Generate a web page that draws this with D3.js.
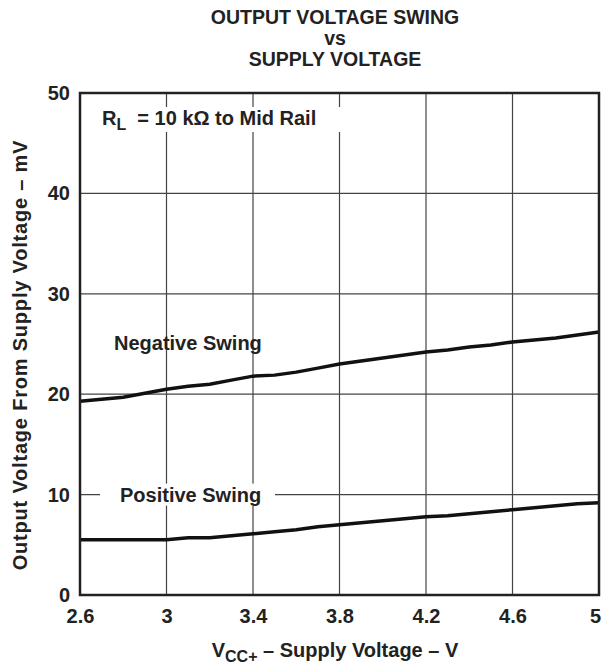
<!DOCTYPE html>
<html>
<head>
<meta charset="utf-8">
<script src="https://cdn.jsdelivr.net/npm/d3@7"></script>
<style>
  body { margin: 0; background: #fff; }
  text { font-family: "Liberation Sans", Arial, sans-serif; font-weight: bold; fill: #222; }
</style>
</head>
<body>
<div id="chart"></div>
<script>
// supply voltage (V)
var vcc = [2.6, 2.7, 2.8, 2.9, 3.0, 3.1, 3.2, 3.3, 3.4, 3.5, 3.6, 3.7, 3.8,
           3.9, 4.0, 4.1, 4.2, 4.3, 4.4, 4.5, 4.6, 4.7, 4.8, 4.9, 5.0];
// output swing from rail (mV)
var negSwing = [19.3, 19.5, 19.7, 20.1, 20.5, 20.8, 21.0, 21.4, 21.8, 21.9, 22.2, 22.6, 23.0,
                23.3, 23.6, 23.9, 24.2, 24.4, 24.7, 24.9, 25.2, 25.4, 25.6, 25.9, 26.2];
var posSwing = [5.5, 5.5, 5.5, 5.5, 5.5, 5.7, 5.7, 5.9, 6.1, 6.3, 6.5, 6.8, 7.0,
                7.2, 7.4, 7.6, 7.8, 7.9, 8.1, 8.3, 8.5, 8.7, 8.9, 9.1, 9.2];
var xTicks = [2.6, 3.0, 3.4, 3.8, 4.2, 4.6, 5.0];
var yTicks = [0, 10, 20, 30, 40, 50];

var margin = {top: 93, right: 4, bottom: 69, left: 80},
    width = 603 - margin.left - margin.right,
    height = 664 - margin.top - margin.bottom;

var svg = d3.select("#chart")
  .append("svg")
    .attr("width", 603)
    .attr("height", 664);

var g = svg.append("g")
    .attr("transform", "translate(" + margin.left + "," + margin.top + ")");

var x = d3.scaleLinear().domain([2.6, 5]).range([0, width]);
var y = d3.scaleLinear().domain([0, 50]).range([height, 0]);

// grid
g.selectAll(".vgrid").data(xTicks).enter().append("line")
  .attr("x1", function(d) { return x(d); }).attr("x2", function(d) { return x(d); })
  .attr("y1", 0).attr("y2", height)
  .attr("stroke", "#444").attr("stroke-width", 1.2);
g.selectAll(".hgrid").data(yTicks).enter().append("line")
  .attr("x1", 0).attr("x2", width)
  .attr("y1", function(d) { return y(d); }).attr("y2", function(d) { return y(d); })
  .attr("stroke", "#444").attr("stroke-width", 1.2);

// tick labels
var xAxis = g.append("g")
  .attr("transform", "translate(0," + height + ")")
  .call(d3.axisBottom(x).tickValues(xTicks).tickSize(0).tickPadding(14)
    .tickFormat(function(d) { return d3.format("")(+d.toFixed(1)); }));
xAxis.select(".domain").remove();
xAxis.selectAll("text").attr("font-size", "20px").attr("fill", "#222").style("font-family", null)
  .attr("dx", function(d) { return d === 5 ? -4 : 0; });

var yAxis = g.append("g")
  .call(d3.axisLeft(y).tickValues(yTicks).tickSize(0).tickPadding(10));
yAxis.select(".domain").remove();
yAxis.selectAll("text").attr("font-size", "20px").attr("fill", "#222").style("font-family", null);

// label boxes
g.append("rect").attr("x", 15).attr("y", 14).attr("width", 250).attr("height", 25).attr("fill", "#fff");
g.append("rect").attr("x", 20).attr("y", y(10) - 11).attr("width", 175).attr("height", 22).attr("fill", "#fff");

// curves
var line = d3.line()
  .x(function(d, i) { return x(vcc[i]); })
  .y(function(d) { return y(d); });

g.append("path").datum(negSwing)
  .attr("d", line).attr("fill", "none").attr("stroke", "#111").attr("stroke-width", 3.5);
g.append("path").datum(posSwing)
  .attr("d", line).attr("fill", "none").attr("stroke", "#111").attr("stroke-width", 3.5);

// frame
g.append("rect").attr("width", width).attr("height", height)
  .attr("fill", "none").attr("stroke", "#222").attr("stroke-width", 2.5);

// annotations
var rl = g.append("text").attr("x", 22).attr("y", 32).attr("font-size", "20px");
rl.append("tspan").text("R");
rl.append("tspan").attr("dy", 5).attr("font-size", "16px").text("L");
rl.append("tspan").attr("dy", -5).attr("xml:space", "preserve").text("  = 10 k\u03A9 to Mid Rail");

g.append("text").attr("x", 34).attr("y", y(24.4)).attr("font-size", "20px").text("Negative Swing");
g.append("text").attr("x", 40).attr("y", y(10) + 7).attr("font-size", "20px").text("Positive Swing");

// titles
var cx = 335;
svg.append("text").attr("x", cx).attr("y", 24).attr("text-anchor", "middle").attr("font-size", "19.5px").text("OUTPUT VOLTAGE SWING");
svg.append("text").attr("x", cx).attr("y", 45).attr("text-anchor", "middle").attr("font-size", "19.5px").text("vs");
svg.append("text").attr("x", cx).attr("y", 66).attr("text-anchor", "middle").attr("font-size", "19.5px").text("SUPPLY VOLTAGE");

var xt = svg.append("text").attr("x", cx).attr("y", 657).attr("text-anchor", "middle").attr("font-size", "20px");
xt.append("tspan").text("V");
xt.append("tspan").attr("dy", 5).attr("font-size", "16px").text("CC+");
xt.append("tspan").attr("dy", -5).text(" \u2013 Supply Voltage \u2013 V");

svg.append("text")
  .attr("transform", "translate(27,355) rotate(-90)")
  .attr("text-anchor", "middle").attr("font-size", "20px").attr("letter-spacing", "0.8px")
  .text("Output Voltage From Supply Voltage \u2013 mV");
</script>
</body>
</html>
